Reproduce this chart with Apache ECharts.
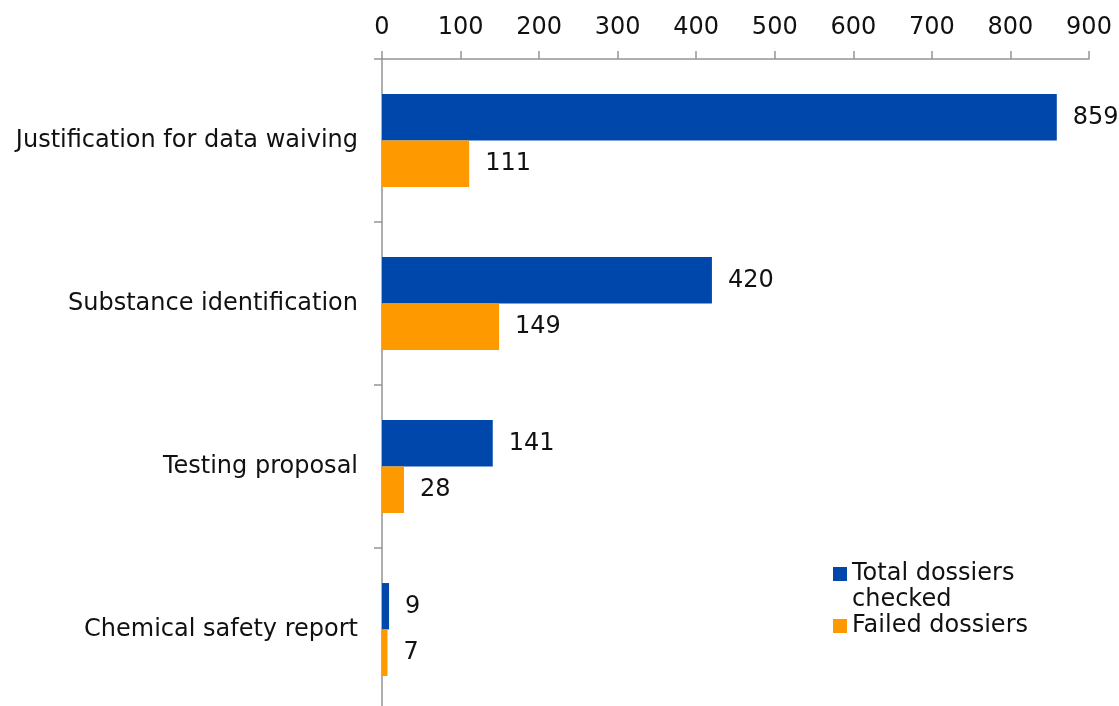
<!DOCTYPE html>
<html>
<head>
<meta charset="utf-8">
<script src="https://cdn.jsdelivr.net/npm/echarts@6/dist/echarts.min.js"></script>
<style>
    html, body { margin: 0; padding: 0; background: #fff; }
    #chart { width: 1119px; height: 706px; }
</style>
</head>
<body>
<div id="chart"></div>
<script>
// categories, top to bottom
const categories = ['Justification for data waiving', 'Substance identification', 'Testing proposal', 'Chemical safety report']
// series values
const totalChecked = [859, 420, 141, 9]
const failed = [111, 149, 28, 7]
const seriesNames = ['Total dossiers checked', 'Failed dossiers']

const font = 'DejaVu Sans, Verdana, sans-serif'
const axisGrey = '#959595'

let myChart = echarts.init(document.getElementById('chart'))

myChart.setOption({
    animation: false,
    backgroundColor: '#fff',
    textStyle: { fontFamily: font },
    grid: {
        left: 382,
        right: 30,
        top: 59,
        bottom: -5,
        containLabel: false,
        outerBoundsMode: 'none'
    },
    legend: {
        orient: 'vertical',
        left: 833,
        top: 535,
        padding: 0,
        itemWidth: 14,
        itemHeight: 14,
        itemGap: 0,
        icon: 'rect',
        data: seriesNames,
        formatter: function (name) {
            // blank first line keeps the square next to the first line of text
            return name === seriesNames[0] ? '\nTotal dossiers\nchecked' : name
        },
        textStyle: { fontSize: 24, color: '#111', lineHeight: 26, fontFamily: font }
    },
    xAxis: {
        type: 'value',
        position: 'top',
        min: 0,
        max: 900,
        interval: 100,
        splitLine: { show: false },
        axisLine: { show: true, lineStyle: { color: axisGrey, width: 1.5 } },
        axisTick: { show: true, length: 8, lineStyle: { color: axisGrey, width: 1.5 } },
        axisLabel: { fontSize: 24, color: '#111', margin: 19, fontFamily: font }
    },
    yAxis: {
        type: 'category',
        inverse: true,
        data: categories,
        axisLine: { show: true, lineStyle: { color: axisGrey, width: 1.5 } },
        axisTick: { show: true, length: 8, lineStyle: { color: axisGrey, width: 1.5 } },
        axisLabel: { fontSize: 24, color: '#111', margin: 24, fontFamily: font }
    },
    series: [
        {
            name: seriesNames[0],
            type: 'bar',
            data: totalChecked,
            barGap: '0%',
            barCategoryGap: '43%',
            itemStyle: { color: '#0047AB' },
            label: { show: true, position: 'right', distance: 16, fontSize: 24, color: '#111', fontFamily: font }
        },
        {
            name: seriesNames[1],
            type: 'bar',
            data: failed,
            barGap: '0%',
            barCategoryGap: '43%',
            itemStyle: { color: '#FF9900' },
            label: { show: true, position: 'right', distance: 16, fontSize: 24, color: '#111', fontFamily: font }
        }
    ]
})
</script>
</body>
</html>
